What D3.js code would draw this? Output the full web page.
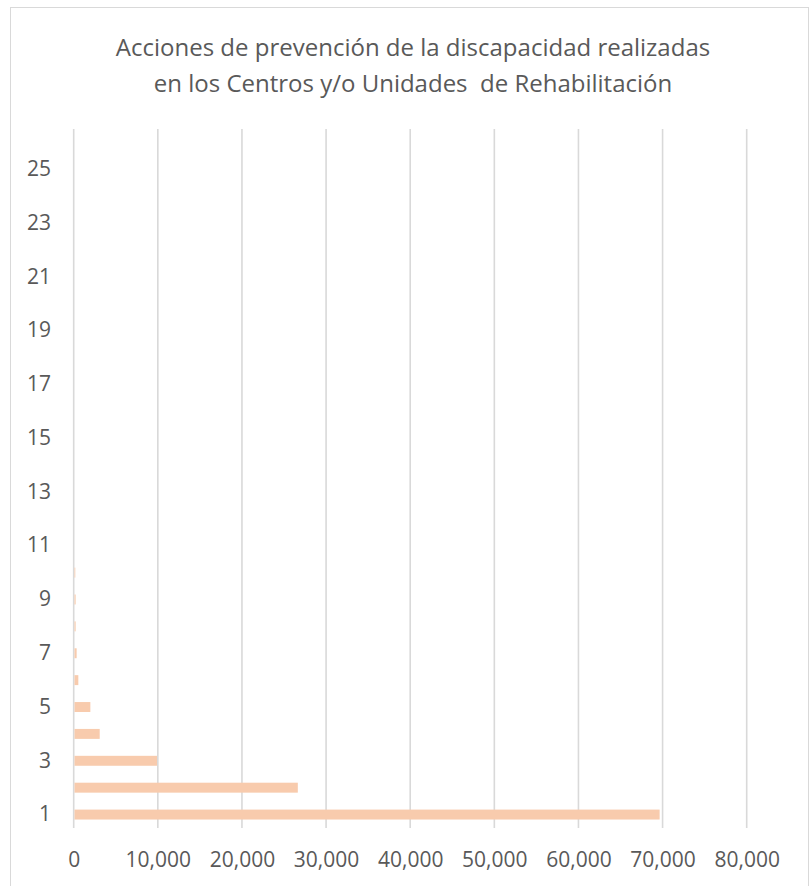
<!DOCTYPE html>
<html><head><meta charset="utf-8">
<script src="https://cdn.jsdelivr.net/npm/d3@7"></script>
<style>body{margin:0;background:#fff}svg{display:block}</style>
</head><body>
<script>
const titleLines = ["Acciones de prevención de la discapacidad realizadas", "en los Centros y/o Unidades  de Rehabilitación"];
const categories = d3.range(1, 27).map(String);
const values = [69650, 26640, 9900, 3090, 1980, 550, 350, 230, 230, 190, 40, 20, 15, 10, 8, 5, 4, 3, 2, 2, 1, 1, 1, 1, 1, 1];
const xTicks = [0, 10000, 20000, 30000, 40000, 50000, 60000, 70000, 80000];
const yTickLabels = categories.filter((d, i) => i % 2 === 0);

const W = 810, H = 886;
const svg = d3.select("body").append("svg").attr("width", W).attr("height", H);
svg.append("rect").attr("x", 10.5).attr("y", 7.5).attr("width", 798).attr("height", 890)
  .attr("fill", "#fff").attr("stroke", "#D9D9D9").attr("stroke-width", 1);

const x = d3.scaleLinear().domain([0, 80000]).range([73.7, 746.7]);
const y = d3.scaleBand().domain(categories.slice().reverse()).range([129, 828]).paddingInner(0.63).paddingOuter(0.315);

const font = "'Open Sans', sans-serif";
const t = svg.append("text").attr("text-anchor", "middle").attr("fill", "#595959")
  .style("font-family", font).style("font-size", "24px").style("white-space", "pre");
titleLines.forEach((l, i) => t.append("tspan").attr("x", 413).attr("y", 56 + i * 36).text(l));

// gridlines
svg.append("g").selectAll("line").data(xTicks).join("line")
  .attr("x1", d => x(d)).attr("x2", d => x(d)).attr("y1", 129).attr("y2", 828)
  .attr("stroke", "#D9D9D9").attr("stroke-width", 1.6);

// bars
svg.append("g").selectAll("rect").data(values).join("rect")
  .attr("x", x(0) + 0.8).attr("y", (d, i) => y(categories[i]))
  .attr("width", d => Math.max(0, x(d) - x(0) - 0.8)).attr("height", y.bandwidth())
  .attr("fill", "#F8CBAD");

// x axis labels
const xAxis = d3.axisBottom(x).tickValues(xTicks).tickFormat(d3.format(",")).tickSize(0).tickPadding(0);
const gx = svg.append("g").attr("transform", "translate(0,852)").call(xAxis);
gx.select(".domain").remove();
gx.selectAll("text").attr("fill", "#595959").style("font-family", font).style("font-size", "21px").attr("dy", "0.71em");

// y axis labels
const yAxis = d3.axisLeft(y).tickValues(yTickLabels).tickSize(0).tickPadding(0);
const gy = svg.append("g").attr("transform", "translate(51,0)").call(yAxis);
gy.select(".domain").remove();
gy.selectAll("text").attr("fill", "#595959").style("font-family", font).style("font-size", "21px");
</script>
</body></html>
